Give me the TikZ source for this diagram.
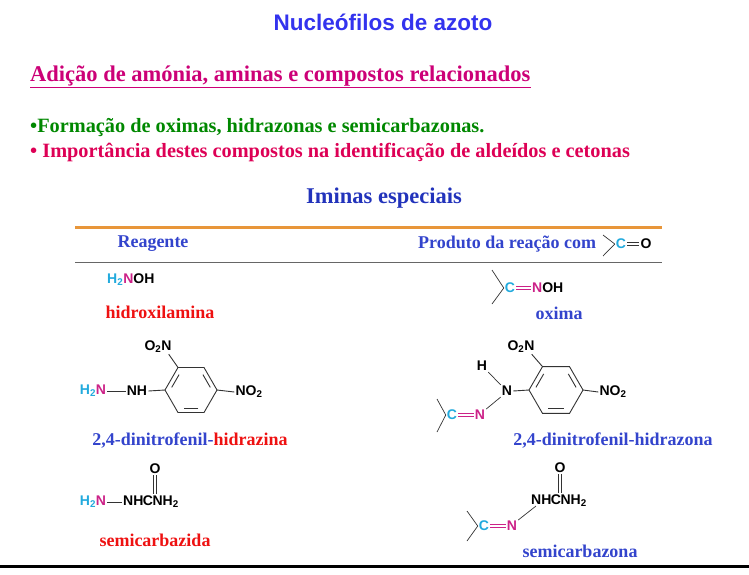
\documentclass[tikz,border=0pt]{standalone}
\usepackage{fontspec}
\setmainfont{Liberation Serif}
\newfontfamily\chemf{Liberation Sans}
\usetikzlibrary{calc}
\definecolor{ttl}{HTML}{3333EE}
\definecolor{mag}{HTML}{CC0077}
\definecolor{grn}{HTML}{008800}
\definecolor{crim}{HTML}{DD0055}
\definecolor{dblue}{HTML}{2233BB}
\definecolor{lblue}{HTML}{3344CC}
\definecolor{rd}{HTML}{EE1111}
\definecolor{cy}{HTML}{22AADD}
\definecolor{nm}{HTML}{CC2288}
\definecolor{org}{HTML}{E8963A}
\newcommand{\Nn}{\textcolor{nm}{N}}
\begin{document}
\begin{tikzpicture}[x=1pt,y=-1pt,
  chem/.style={font=\chemf\bfseries\fontsize{14}{16}\selectfont,inner sep=1pt},
  lbl/.style={font=\bfseries\fontsize{18}{20}\selectfont,inner sep=0pt},
  bond/.style={line width=0.9pt,black!80},
  ibond/.style={line width=0.9pt,black!80,shorten >=3pt,shorten <=3pt},
  sbond/.style={line width=0.7pt,black!80}]
\useasboundingbox (0,0) rectangle (749,574);
\node[font=\chemf\bfseries\fontsize{22.5}{26}\selectfont,text=ttl] (title) at (383,22) {Nucleófilos de azoto};
\node[anchor=west,font=\bfseries\fontsize{22.5}{26}\selectfont,text=mag,inner sep=0pt] (adi) at (30,76) {Adição de amónia, aminas e compostos relacionados};
\draw[mag,line width=1pt] ($(adi.south west)+(0,1)$) -- ($(adi.south east)+(0,1)$);
\node[anchor=west,font=\bfseries\fontsize{20.3}{24}\selectfont,text=grn,inner sep=0pt] (b1) at (30,128) {•Formação de oximas, hidrazonas e semicarbazonas.};
\node[anchor=west,font=\bfseries\fontsize{20.3}{24}\selectfont,text=crim,inner sep=0pt] (b2) at (30,152) {• Importância destes compostos na identificação de aldeídos e cetonas};
\node[font=\bfseries\fontsize{22.5}{26}\selectfont,text=dblue] (imi) at (384,198) {Iminas especiais};
\coordinate (o1) at (75,227); \coordinate (o2) at (662,227);
\draw[org,line width=3pt] (o1) -- (o2);
\coordinate (g1) at (75,262); \coordinate (g2) at (662,262);
\draw[black!60,line width=0.8pt] (g1) -- (g2);
\coordinate (k1) at (0,566); \coordinate (k2) at (749,566);
\draw[black,line width=3pt] (k1) -- (k2);
\node[lbl,text=lblue] (rea) at (153,244) {Reagente};
\node[lbl,text=lblue,anchor=west] (prod) at (418,244) {Produto da reação com};
\node[chem,text=cy] (hc) at (621,244) {C};
\node[chem] (ho) at (646,244) {O};
\coordinate (hu) at (603,235); \coordinate (hd) at (603,256);
\draw[sbond] (hu) -- (hc.west); \draw[sbond] (hd) -- (hc.west);
\draw[bond,double,double distance=1.6pt] (hc.east) -- (ho.west);
\node[chem,anchor=west] (nh2oh) at (106,280) {\textcolor{cy}{H\textsubscript{2}}\Nn OH};
\node[lbl,text=rd] (hid) at (160,312) {hidroxilamina};
\node[chem,text=cy] (oc) at (510,288) {C};
\node[chem,anchor=west] (onoh) at (531,288) {\Nn OH};
\coordinate (ou) at (492,270); \coordinate (od) at (492,304);
\draw[sbond] (ou) -- (oc.west); \draw[sbond] (od) -- (oc.west);
\draw[nm,line width=0.9pt,double,double distance=1.6pt] (oc.east) -- (onoh.west);
\node[lbl,text=lblue] (oxl) at (559,313) {oxima};
% DNPH ring (y flipped: 240 = top-left)
\coordinate (rc) at (191,390);
\foreach \a/\n in {0/r0,60/r1,120/r2,180/r3,240/r4,300/r5}
  \coordinate (\n) at ($(rc)+(\a:26)$);
\draw[bond] (r0)--(r1)--(r2)--(r3)--(r4)--(r5)--cycle;
\draw[ibond] ($(rc)!0.8!(r3)$) -- ($(rc)!0.8!(r4)$);
\draw[ibond] ($(rc)!0.8!(r5)$) -- ($(rc)!0.8!(r0)$);
\draw[ibond] ($(rc)!0.8!(r1)$) -- ($(rc)!0.8!(r2)$);
\node[chem] (dnh) at (137,391) {NH};
\node[chem] (dh2n) at (93,391) {\textcolor{cy}{H\textsubscript{2}}\Nn};
\node[chem] (do2n) at (158,347) {O\textsubscript{2}N};
\node[chem] (dno2) at (249,392) {NO\textsubscript{2}};
\draw[bond] (dh2n.east) -- (dnh.west);
\draw[bond] (dnh.east) -- (r3);
\draw[bond] (r0) -- (dno2.west);
\draw[bond] (r4) -- ($(do2n.south east)+(-4,0)$);
\node[font=\bfseries\fontsize{18}{20}\selectfont,inner sep=0pt] (dnl) at (190,441) {\textcolor{lblue}{2,4-dinitrofenil-}\textcolor{rd}{hidrazina}};
% hydrazone ring
\coordinate (pcn) at (556,390);
\foreach \a/\n in {0/p0,60/p1,120/p2,180/p3,240/p4,300/p5}
  \coordinate (\n) at ($(pcn)+(\a:27)$);
\draw[bond] (p0)--(p1)--(p2)--(p3)--(p4)--(p5)--cycle;
\draw[ibond] ($(pcn)!0.8!(p3)$) -- ($(pcn)!0.8!(p4)$);
\draw[ibond] ($(pcn)!0.8!(p5)$) -- ($(pcn)!0.8!(p0)$);
\draw[ibond] ($(pcn)!0.8!(p1)$) -- ($(pcn)!0.8!(p2)$);
\node[chem] (pn) at (507,391) {N};
\node[chem] (ph) at (482,366) {H};
\node[chem] (po2n) at (521,347) {O\textsubscript{2}N};
\node[chem] (pno2) at (613,392) {NO\textsubscript{2}};
\node[chem,text=cy] (pc) at (452,415) {C};
\node[chem,text=nm] (pn2) at (480,415) {N};
\coordinate (pu) at (437,399); \coordinate (pd) at (437,432);
\draw[sbond] (pu) -- (pc.west); \draw[sbond] (pd) -- (pc.west);
\draw[nm,line width=0.9pt,double,double distance=1.6pt] (pc.east) -- (pn2.west);
\draw[sbond] (pn2.north east) -- (pn.south west);
\draw[sbond] (ph.south east) -- (pn.north west);
\draw[bond] (pn.east) -- (p3);
\draw[bond] (p0) -- (pno2.west);
\draw[bond] (p4) -- ($(po2n.south east)+(-4,0)$);
\node[lbl,text=lblue] (dnz) at (613,441) {2,4-dinitrofenil-hidrazona};
\node[chem] (sh2n) at (93,502) {\textcolor{cy}{H\textsubscript{2}}\Nn};
\node[chem,anchor=west] (snh) at (122,502) {NH\kern-0.5pt C\kern-0.5pt NH\textsubscript{2}};
\node[chem] (so) at (155,469) {O};
\coordinate (sc) at (155,494);
\draw[bond] (sh2n.east) -- (snh.west);
\draw[bond,double,double distance=1.6pt] (so.south) -- (sc);
\node[lbl,text=rd] (sml) at (155,540) {semicarbazida};
\node[chem,anchor=west] (znh) at (530,501) {NH\kern-0.5pt C\kern-0.5pt NH\textsubscript{2}};
\node[chem] (zo) at (560,468) {O};
\coordinate (zc) at (560,493);
\draw[bond,double,double distance=1.6pt] (zo.south) -- (zc);
\node[chem,text=cy] (zcc) at (484,526) {C};
\node[chem,text=nm] (zn) at (512,526) {N};
\coordinate (zu) at (467,511); \coordinate (zd) at (467,541);
\draw[sbond] (zu) -- (zcc.west); \draw[sbond] (zd) -- (zcc.west);
\draw[nm,line width=0.9pt,double,double distance=1.6pt] (zcc.east) -- (zn.west);
\draw[sbond] (zn.north east) -- ($(znh.west)+(6,5)$);
\node[lbl,text=lblue] (zml) at (580,551) {semicarbazona};
\end{tikzpicture}
\end{document}
